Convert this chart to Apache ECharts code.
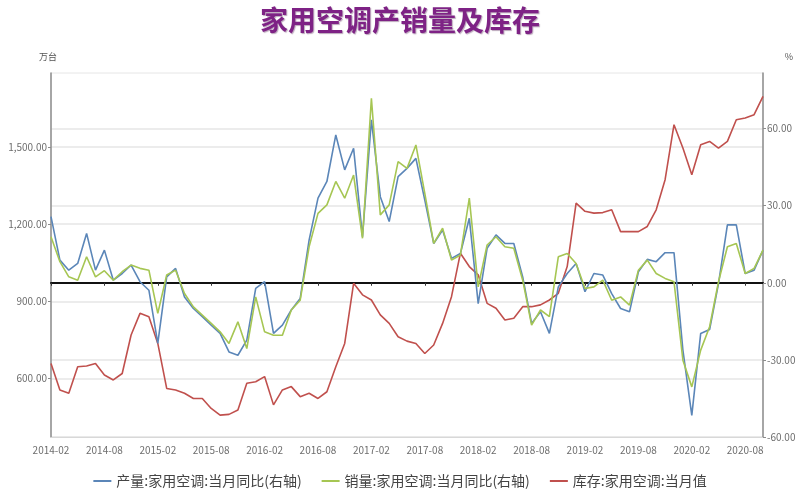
<!DOCTYPE html>
<html>
<head>
<meta charset="utf-8">
<script src="https://cdn.jsdelivr.net/npm/echarts@6/dist/echarts.min.js"></script>
<style>
html,body{margin:0;padding:0;background:#fff;}
#chart{width:800px;height:500px;}
</style>
</head>
<body>
<div id="chart"></div>
<script>
var months = [
'2014-02','2014-03','2014-04','2014-05','2014-06','2014-07','2014-08','2014-09','2014-10','2014-11','2014-12',
'2015-01','2015-02','2015-03','2015-04','2015-05','2015-06','2015-07','2015-08','2015-09','2015-10','2015-11','2015-12',
'2016-01','2016-02','2016-03','2016-04','2016-05','2016-06','2016-07','2016-08','2016-09','2016-10','2016-11','2016-12',
'2017-01','2017-02','2017-03','2017-04','2017-05','2017-06','2017-07','2017-08','2017-09','2017-10','2017-11','2017-12',
'2018-01','2018-02','2018-03','2018-04','2018-05','2018-06','2018-07','2018-08','2018-09','2018-10','2018-11','2018-12',
'2019-01','2019-02','2019-03','2019-04','2019-05','2019-06','2019-07','2019-08','2019-09','2019-10','2019-11','2019-12',
'2020-01','2020-02','2020-03','2020-04','2020-05','2020-06','2020-07','2020-08','2020-09','2020-10'
];

// 产量:家用空调:当月同比 (%)
var productionYoY = [
25.7,8.8,4.9,7.5,19.2,4.9,12.7,1.0,3.6,6.9,0.4,
-2.9,-23.6,2.3,5.6,-5.5,-10,-13.2,-16.5,-19.7,-26.9,-28.2,-22.3,
-2.2,0.4,-19.7,-16.5,-10.6,-6.1,16.6,32.9,39.4,57.5,43.9,52.3,
17.9,63.4,33.5,23.8,41.3,44.5,48.4,32.2,15.3,20.5,9.5,11.4,
25.1,-8.1,13.4,18.6,15.3,15.3,2.3,-15.8,-11.3,-19.7,-1.6,3.6,
7.5,-3.5,3.6,3.0,-4.2,-10,-11.3,4.3,9.1,8.2,11.7,11.7,
-26.2,-51.6,-19.7,-18.2,-0.3,22.5,22.5,3.6,4.9,12.7
];

// 销量:家用空调:当月同比 (%)
var salesYoY = [
17.9,8.2,2.3,1.0,10.1,2.3,4.7,1.0,4.3,6.9,5.6,
4.9,-11.9,3.0,4.9,-4.2,-9.4,-12.6,-15.8,-19.1,-23.6,-15.2,-25.6,
-5.5,-19.1,-20.4,-20.4,-10.6,-6.8,14.0,27.0,30.3,39.4,32.9,41.9,
17.3,71.8,26.4,30.3,47.1,44.5,53.6,34.8,15.3,21.2,8.8,10.8,
32.9,-1.6,14.7,17.9,14.0,13.4,1.0,-16.5,-10.6,-13.2,10.1,11.4,
7.5,-2.2,-1.6,1.0,-6.8,-5.5,-8.7,4.9,8.8,3.6,1.7,0.4,
-30.1,-40.5,-26.2,-17.1,0.4,14.0,15.3,3.6,5.6,12.7
];

// 库存:家用空调:当月值 (万台)
var stock = [
658,555,542,645,648,658,613,594,619,769,853,
840,736,561,555,542,522,522,483,457,460,477,581,
587,607,497,555,568,529,542,522,548,645,736,970,
925,905,847,814,762,745,736,697,730,814,918,1087,
1035,1003,892,873,827,834,879,879,886,905,931,1035,
1282,1250,1243,1245,1256,1171,1171,1171,1191,1256,1373,1587,
1496,1392,1509,1522,1496,1522,1606,1613,1626,1697
];

var leftTicks = [600, 900, 1200, 1500];
var rightTicks = [-60, -30, 0, 30, 60];
var seriesNames = ['产量:家用空调:当月同比(右轴)', '销量:家用空调:当月同比(右轴)', '库存:家用空调:当月值'];

var chart = echarts.init(document.getElementById('chart'), null, {renderer: 'canvas'});
var fam = '"Noto Sans CJK SC", "Noto Sans", sans-serif';
var option = {
  animation: false,
  backgroundColor: '#ffffff',
  textStyle: {fontFamily: fam},
  title: {
    text: '家用空调产销量及库存',
    left: 'center',
    top: 1,
    textStyle: {color: '#7e2285', fontSize: 28, fontWeight: 'bold', fontFamily: fam,
      textShadowColor: 'rgba(60,0,60,0.35)', textShadowBlur: 1, textShadowOffsetX: 1, textShadowOffsetY: 1}
  },
  legend: {
    bottom: 7,
    left: 'center',
    itemWidth: 18,
    itemHeight: 2,
    itemGap: 20,
    icon: 'rect',
    textStyle: {fontSize: 14, color: '#444', fontFamily: fam},
    data: seriesNames
  },
  grid: {
    left: 51, right: 37, top: 73, bottom: 63,
    show: true, borderColor: '#e6e6e6', borderWidth: 1
  },
  xAxis: [{
    type: 'category',
    data: months,
    boundaryGap: false,
    position: 'bottom',
    axisLine: {onZero: false, lineStyle: {color: '#d8d8d8', width: 1}},
    axisTick: {show: false},
    axisLabel: {interval: 5, color: '#6e6e6e', fontSize: 10, margin: 8},
    splitLine: {show: false}
  }, {
    type: 'category',
    data: months,
    boundaryGap: false,
    position: 'top',
    axisLine: {onZero: true, onZeroAxisIndex: 1, lineStyle: {color: '#111', width: 2}},
    axisTick: {show: true, interval: 5, length: 3, inside: true, lineStyle: {color: '#333'}},
    axisLabel: {show: false},
    splitLine: {show: false}
  }],
  yAxis: [{
    type: 'value',
    min: 372,
    max: 1788,
    position: 'left',
    name: '万台',
    nameLocation: 'end',
    nameGap: 12,
    nameTextStyle: {color: '#555', fontSize: 9, align: 'center', padding: [0, 6, 0, 0]},
    axisLine: {show: true, lineStyle: {color: '#8c8c8c', width: 1.5}},
    axisTick: {show: true, length: 3, customValues: leftTicks, lineStyle: {color: '#8c8c8c'}},
    axisLabel: {
      customValues: leftTicks,
      color: '#6e6e6e', fontSize: 10, margin: 4,
      formatter: function (v) { return v.toLocaleString('en-US', {minimumFractionDigits: 2, maximumFractionDigits: 2}); }
    },
    splitLine: {show: true, lineStyle: {color: '#e6e6e6', width: 1.5}}
  }, {
    type: 'value',
    min: -60,
    max: 81.6,
    position: 'right',
    name: '%',
    nameLocation: 'end',
    nameGap: 12,
    nameTextStyle: {color: '#555', fontSize: 9, align: 'center', padding: [0, 0, 0, 52]},
    axisLine: {show: true, lineStyle: {color: '#8c8c8c', width: 1.5}},
    axisTick: {show: true, length: 3, customValues: rightTicks, lineStyle: {color: '#8c8c8c'}},
    axisLabel: {
      customValues: rightTicks,
      color: '#6e6e6e', fontSize: 10, margin: 4,
      formatter: function (v) { return v.toFixed(2); }
    },
    splitLine: {show: true, lineStyle: {color: '#e6e6e6', width: 1.5}}
  }],
  series: [{
    name: seriesNames[0],
    type: 'line',
    xAxisIndex: 0,
    yAxisIndex: 1,
    data: productionYoY,
    showSymbol: false,
    symbol: 'none',
    lineStyle: {color: '#5b86b8', width: 1.6},
    itemStyle: {color: '#5b86b8'},
    z: 3
  }, {
    name: seriesNames[1],
    type: 'line',
    xAxisIndex: 0,
    yAxisIndex: 1,
    data: salesYoY,
    showSymbol: false,
    symbol: 'none',
    lineStyle: {color: '#a6c653', width: 1.6},
    itemStyle: {color: '#a6c653'},
    z: 4
  }, {
    name: seriesNames[2],
    type: 'line',
    xAxisIndex: 0,
    yAxisIndex: 0,
    data: stock,
    showSymbol: false,
    symbol: 'none',
    lineStyle: {color: '#c0504d', width: 1.6},
    itemStyle: {color: '#c0504d'},
    z: 2
  }]
};
chart.setOption(option);
</script>
</body>
</html>
